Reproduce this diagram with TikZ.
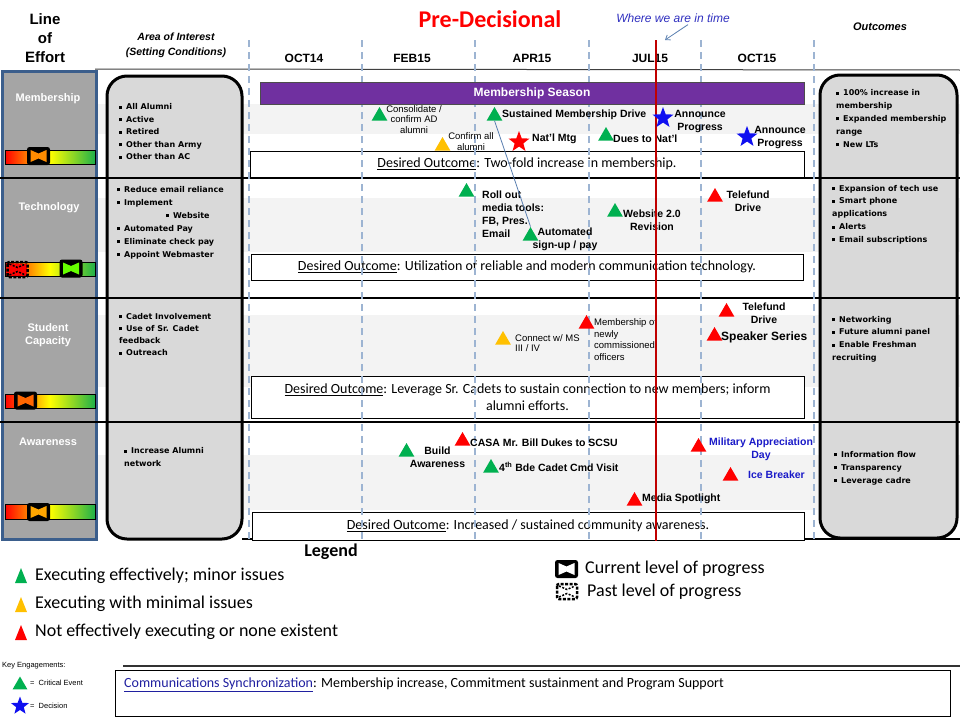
\documentclass[tikz,border=0pt]{standalone}
\usepackage{fontspec}
\setmainfont{Liberation Sans}
\newfontfamily\calfont{Carlito}
\newfontfamily\dvfont{DejaVu Sans}
\usetikzlibrary{shapes.geometric,arrows.meta}
\definecolor{mgreen}{HTML}{00B050}
\definecolor{myellow}{HTML}{FFC000}
\definecolor{mred}{HTML}{FF0000}
\definecolor{mblue}{HTML}{1010F0}
\definecolor{mpurple}{HTML}{7030A0}
\definecolor{loegray}{HTML}{A5A5A5}
\definecolor{loeblue}{HTML}{3B5E8C}
\definecolor{aoigray}{HTML}{D9D9D9}
\definecolor{dashblue}{HTML}{9DB4D2}
\definecolor{nowred}{HTML}{C00000}
\definecolor{band}{HTML}{F3F3F3}
\definecolor{evblue}{HTML}{1A1AC8}
\definecolor{whereblue}{HTML}{3030C0}
\definecolor{arrowblue}{HTML}{5A7FB0}
\definecolor{commblue}{HTML}{2020A0}
\definecolor{lvgreen}{HTML}{1FB04A}
\newcommand\setfs[2]{\fontsize{#1}{#2}\selectfont}
\newcommand\bsq{\rule[1pt]{3pt}{3pt}\hspace{4pt}}
\newcommand\curmark[3]{%
  \fill[black,rounded corners=2.5pt] (#1-11.5,#2-9) rectangle (#1+11.5,#2+9);
  \fill[#3] (#1-8,#2-6) -- (#1,#2-2.5) -- (#1+8,#2-6) -- (#1+8,#2+6) -- (#1,#2+2.5) -- (#1-8,#2+6) -- cycle;}
\newcommand\pastmark[3]{%
  \fill[#3] (#1-9,#2-6) rectangle (#1+9,#2+6);
  \draw[black,line width=2.5pt,dash pattern=on 3pt off 1.5pt,rounded corners=2pt] (#1-10,#2-7.5) rectangle (#1+10,#2+7.5);
  \draw[black,line width=1.5pt,dash pattern=on 2pt off 1.5pt] (#1-8,#2-5.5) -- (#1,#2-2) -- (#1+8,#2-5.5) (#1-8,#2+5.5) -- (#1,#2+2) -- (#1+8,#2+5.5);}
\newcommand\lvlbar[2]{%
  \shade[left color=mred,right color=lvgreen,middle color=yellow] (5,#1) rectangle (95,#2);
  \draw[black,line width=0.6pt] (5,#1) rectangle (95,#2);}
\begin{document}
\begin{tikzpicture}[x=1pt,y=-1pt,
  tri/.style={regular polygon,regular polygon sides=3,minimum size=18pt,inner sep=0pt},
  gtri/.style={tri,fill=mgreen},
  ytri/.style={tri,fill=myellow},
  rtri/.style={tri,fill=mred},
  bstar/.style={star,star points=5,star point ratio=2.4,minimum size=22pt,inner sep=0pt,fill=mblue},
  rstar/.style={bstar,fill=mred},
  evb/.style={font=\bfseries\setfs{10.5}{13},inner sep=0pt,align=center},
  evs/.style={font=\setfs{9.5}{10.8},inner sep=0pt,align=left,anchor=west},
  bul/.style={font=\dvfont\bfseries\setfs{8}{12.6},inner sep=0pt,align=left,anchor=west},
  dobox/.style={draw=black,fill=white,line width=1pt,minimum width=554pt,inner sep=0pt,align=center,font=\calfont\setfs{14}{17}},
  hdr/.style={font=\bfseries\setfs{12}{14},inner sep=0pt},
  loelbl/.style={font=\bfseries\setfs{11}{13},text=white,inner sep=0pt,align=center},
  legtxt/.style={font=\calfont\setfs{18}{20},inner sep=0pt,anchor=west},
  keytxt/.style={font=\setfs{7.5}{9},inner sep=0pt,anchor=west},
  dashv/.style={dashblue,line width=1.5pt,dash pattern=on 7pt off 5pt},
  sep/.style={black,line width=2.5pt},
  colbox/.style={line width=3pt,draw=black,fill=aoigray,rounded corners=20pt}
]
\fill[white] (0,0) rectangle (960,720);
\useasboundingbox (0,0) rectangle (960,720);

% background bands
\fill[band] (97,104) rectangle (960,134);
\fill[band] (97,198) rectangle (960,252);
\fill[band] (97,315) rectangle (960,387);
\fill[band] (97,455) rectangle (960,510);

% header rule
\draw[black!75,line width=1pt] (95,69) -- (960,70);

% headers
\node[font=\bfseries\setfs{15}{19},align=center,inner sep=0pt] (loehdr) at (45,38) {Line\\of\\Effort};
\node[font=\bfseries\itshape\setfs{10.5}{15},align=center,inner sep=0pt] (aoihdr) at (176,45) {Area of Interest\\(Setting Conditions)};
\node[font=\calfont\bfseries\setfs{24}{28},text=mred,inner sep=0pt] (predec) at (490,19) {Pre-Decisional};
\node[font=\itshape\setfs{12}{14},text=whereblue,inner sep=0pt] (where) at (673,18) {Where we are in time};
\node[font=\bfseries\itshape\setfs{11}{13},inner sep=0pt] (outhdr) at (880,27) {Outcomes};
\node[hdr] (m1) at (304,58) {OCT14};
\node[hdr] (m2) at (412,58) {FEB15};
\node[hdr] (m3) at (532,58) {APR15};
\node[hdr] (m4) at (650,58) {JUL15};
\node[hdr] (m5) at (757,58) {OCT15};

% columns
\draw[loeblue,line width=3pt,fill=loegray] (2,71) rectangle (96,539);
\draw[colbox] (107,76) rectangle (242,539);
\draw[colbox] (820,75) rectangle (957,538);

% row separators
\foreach \yy in {178,298,422} \draw[sep] (0,\yy) -- (960,\yy);
\draw[black,line width=1.5pt] (242,539) -- (960,539);

% line of effort labels and bars
\node[loelbl] (loe1) at (48,99) {Membership};
\node[loelbl] (loe2) at (49,208) {Technology};
\node[loelbl] (loe3) at (48,335) {Student\\Capacity};
\node[loelbl] (loe4) at (48,442) {Awareness};
\lvlbar{150}{164}
\curmark{38.5}{156}{orange!90!yellow}
\lvlbar{262}{276}
\pastmark{17.5}{269.5}{mred}
\curmark{71}{268.5}{green!60!yellow}
\lvlbar{394}{408}
\curmark{25.5}{400.5}{orange!80!red}
\lvlbar{504}{519}
\curmark{38.5}{512}{orange!70!yellow}

% area of interest
\node[bul,font=\dvfont\bfseries\setfs{8}{12.5}] (aoi1) at (119,132) {\bsq All Alumni\\\bsq Active\\\bsq Retired\\\bsq Other than Army\\\bsq Other than AC};
\node[bul,font=\dvfont\bfseries\setfs{8}{13}] (aoi2) at (117,222.5) {\bsq Reduce email reliance\\\bsq Implement\\\hspace*{49pt}\bsq Website\\\bsq Automated Pay\\\bsq Eliminate check pay\\\bsq Appoint Webmaster};
\node[bul,font=\dvfont\bfseries\setfs{8}{12.3}] (aoi3) at (119,334.5) {\bsq Cadet Involvement\\\bsq Use of Sr. Cadet\\feedback\\\bsq Outreach};
\node[bul,font=\dvfont\bfseries\setfs{8}{13}] (aoi4) at (124,457.5) {\bsq Increase Alumni\\network};

% outcomes
\node[bul,font=\dvfont\bfseries\setfs{8}{12.8}] (out1) at (836,118.5) {\bsq 100\% increase in\\membership\\\bsq Expanded membership\\range\\\bsq New LTs};
\node[bul,font=\dvfont\bfseries\setfs{8}{12.8}] (out2) at (832,214.5) {\bsq Expansion of tech use\\\bsq Smart phone\\applications\\\bsq Alerts\\\bsq Email subscriptions};
\node[bul,font=\dvfont\bfseries\setfs{8}{12.7}] (out3) at (832,339) {\bsq Networking\\\bsq Future alumni panel\\\bsq Enable Freshman\\recruiting};
\node[bul,font=\dvfont\bfseries\setfs{8}{13}] (out4) at (834,468) {\bsq Information flow\\\bsq Transparency\\\bsq Leverage cadre};

% desired outcome boxes
\node[dobox,minimum height=26pt] (do1) at (527,164) {\underline{Desired Outcome}: Two-fold increase in membership.};
\node[dobox,minimum width=552pt,minimum height=26pt] (do2) at (527,267) {\underline{Desired Outcome}: Utilization of reliable and modern communication technology.};
\node[dobox,minimum width=553pt,minimum height=42pt] (do3) at (527.5,397) {\underline{Desired Outcome}: Leverage Sr. Cadets to sustain connection to new members; inform\\alumni efforts.};
\node[dobox,minimum width=552pt,minimum height=28pt] (do4) at (528,526) {\underline{Desired Outcome}: Increased / sustained community awareness.};

% dashed month lines
\foreach \xx in {249,362,475,589,701,814} \draw[dashv] (\xx,40) -- (\xx,540);

% membership season bar
\node[fill=mpurple,draw=black!70,line width=0.8pt,minimum width=544pt,minimum height=22pt,inner sep=0pt,text=white,font=\bfseries\setfs{12}{14}] (season) at (532,93) {Membership Season};

% membership events
\node[gtri] (g1) at (379.5,116) {};
\node[evs,anchor=center,align=center] (l1) at (414,119.5) {Consolidate /\\confirm AD\\alumni};
\node[ytri] (y1) at (442.5,146) {};
\node[evs,anchor=center,align=center] (l2) at (471,141.5) {Confirm all\\alumni};
\node[gtri] (g2) at (494.5,116) {};
\node[evb,anchor=west] (l3) at (502,115) {Sustained Membership Drive};
\node[evb,anchor=west] (l4) at (532,139) {Nat’l Mtg};
\node[gtri] (g3) at (606,136) {};
\node[evb,anchor=west] (l5) at (613,139) {Dues to Nat’l};
\node[evb] (l6) at (700,121.5) {Announce\\Progress};
\node[evb] (l7) at (780,137.5) {Announce\\Progress};

% technology events
\node[gtri] (g4) at (466.5,192) {};
\node[evb,anchor=west,align=left] (l8) at (482,214.5) {Roll out\\media tools:\\FB, Pres.\\Email};
\node[gtri] (g5) at (530.5,236) {};
\node[evb] (l9) at (565,239.5) {Automated\\sign-up / pay};
\node[gtri] (g6) at (615,212) {};
\node[evb] (l10) at (652,220.5) {Website 2.0\\Revision};
\node[rtri] (r1) at (715,197) {};
\node[evb] (l11) at (748,201.5) {Telefund\\Drive};

% student capacity events
\node[ytri] (y2) at (503,340) {};
\node[evs] (l12) at (515,343) {Connect w/ MS\\III / IV};
\node[rtri] (r2) at (586.5,324) {};
\node[evs,font=\setfs{9.5}{11.5}] (l13) at (594,339.5) {Membership of\\newly\\commissioned\\officers};
\node[rtri] (r3) at (726.5,312) {};
\node[evb] (l14) at (764,313.5) {Telefund\\Drive};
\node[rtri] (r4) at (714.5,336) {};
\node[evb,font=\bfseries\setfs{12}{14},anchor=west] (l15) at (721,337) {Speaker Series};

% awareness events
\node[gtri] (g7) at (406.5,452) {};
\node[evb] (l16) at (437.5,457.5) {Build\\Awareness};
\node[rtri] (r5) at (462.5,441) {};
\node[evb,anchor=west] (l17) at (470,443) {CASA Mr. Bill Dukes to SCSU};
\node[gtri] (g8) at (491,468) {};
\node[evb,anchor=west] (l18) at (499,467) {4\textsuperscript{th} Bde Cadet Cmd Visit};
\node[rtri] (r6) at (634.5,501) {};
\node[evb,anchor=west] (l19) at (642,499) {Media Spotlight};
\node[rtri] (r7) at (698.5,447) {};
\node[evb,text=evblue] (l20) at (761,449.5) {Military Appreciation\\Day};
\node[rtri] (r8) at (730.5,476) {};
\node[evb,text=evblue,anchor=west] (l21) at (748,475) {Ice Breaker};

% connector
\draw[arrowblue,line width=0.8pt] (g2.south) -- (g5.north);

% now line
\coordinate (nowtop) at (656,40);
\coordinate (nowbot) at (656,541);
\draw[nowred,line width=2pt] (nowtop) -- (nowbot);
\draw[arrowblue,line width=0.8pt,-{Straight Barb[length=4pt,width=6pt]}] ([xshift=15pt,yshift=-2pt]where.south) -- (nowtop -| 665,40);

% stars
\node[rstar] (s1) at (519,142) {};
\node[bstar] (b1) at (663,118) {};
\node[bstar] (b2) at (747,137) {};

% legend
\node[font=\calfont\bfseries\setfs{18}{20},inner sep=0pt] (legend) at (331,552) {Legend};
\fill[mgreen] (15,583) -- (21,568) -- (27,583) -- cycle;
\fill[myellow] (15,612) -- (21,597) -- (27,612) -- cycle;
\fill[mred] (15,640) -- (21,625) -- (27,640) -- cycle;
\node[legtxt] (lt1) at (35,576) {Executing effectively; minor issues};
\node[legtxt] (lt2) at (35,604) {Executing with minimal issues};
\node[legtxt] (lt3) at (35,632) {Not effectively executing or none existent};
\curmark{566.5}{569}{white}
\node[legtxt] (lt4) at (585,569) {Current level of progress};
\pastmark{567}{591.5}{white}
\node[legtxt] (lt5) at (587,592) {Past level of progress};

% key engagements
\node[keytxt] (keyeng) at (2,666) {Key Engagements:};
\node[gtri,minimum size=17pt] (kt) at (20,685) {};
\node[keytxt] (kt1) at (30,683) {=\ \ Critical Event};
\node[bstar,minimum size=19pt] (ks) at (20,706) {};
\node[keytxt] (ks1) at (30,706) {=\ \ Decision};

% communications
\draw[black!80,line width=2pt] (123,666) -- (960,666);
\node[draw=black,line width=1pt,minimum width=835pt,minimum height=46pt,anchor=north west,inner sep=0pt] (commbox) at (115,670) {};
\node[font=\calfont\setfs{14}{16},anchor=west,inner sep=0pt] (commtxt) at (124,685) {\textcolor{commblue}{\underline{Communications Synchronization}}: Membership increase, Commitment sustainment and Program Support};
\end{tikzpicture}
\end{document}
